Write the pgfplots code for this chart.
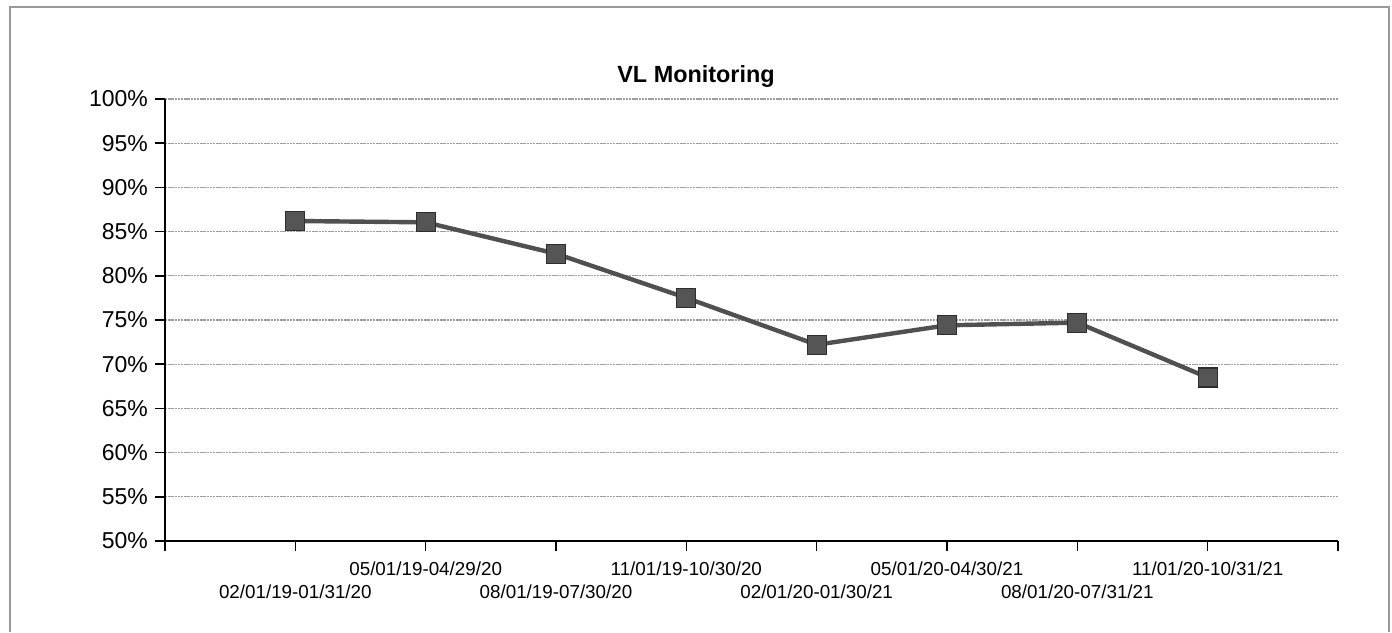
\documentclass[border=0pt]{standalone}
\usepackage{pgfplots}
\pgfplotsset{compat=1.18}
\usepackage{fontspec}
\setmainfont{Liberation Sans}
\definecolor{linegray}{RGB}{80,80,80}
\definecolor{markgray}{RGB}{85,85,85}
\definecolor{markedge}{RGB}{45,45,45}
\begin{document}
\begin{tikzpicture}
\begin{axis}[
 scale only axis, width=586.5pt, height=221pt,
 xmin=0, xmax=9, ymin=50, ymax=100,
 axis x line*=bottom, axis y line*=left,
 axis line style={-, black, line width=1.1pt},
 xtick={0,2,4,6,8,9},
 xticklabels={{},{05/01/19-04/29/20},{11/01/19-10/30/20},{05/01/20-04/30/21},{11/01/20-10/31/21},{}},
 extra x ticks={1,3,5,7},
 extra x tick labels={{02/01/19-01/31/20},{08/01/19-07/30/20},{02/01/20-01/30/21},{08/01/20-07/31/21}},
 extra x tick style={xticklabel style={yshift=-11.5pt}},
 xticklabel style={font=\fontsize{9.4}{11.5}\selectfont, anchor=north, yshift=-2pt},
 ytick={50,55,...,100},
 yticklabels={50\%,55\%,60\%,65\%,70\%,75\%,80\%,85\%,90\%,95\%,100\%},
 yticklabel style={font=\fontsize{11.5}{13}\selectfont},
 tick align=outside, major tick length=5pt, tick style={black, line width=0.8pt},
 ymajorgrids, grid style={gray!75, line width=0.55pt, dash pattern=on 1.2pt off 0.4pt},
 clip=false,
]
\addplot[color=linegray, line width=2.2pt, mark=square*, mark size=4.75pt,
  mark options={solid, fill=markgray, draw=markedge, line width=0.6pt}]
  coordinates {(1,86.2) (2,86.05) (3,82.5) (4,77.5) (5,72.2) (6,74.4) (7,74.7) (8,68.5)};
\coordinate (O) at (rel axis cs:0,0);
\end{axis}
\node[font=\bfseries\fontsize{11.7}{14}\selectfont] at ([xshift=265.5pt,yshift=232pt]O) {VL Monitoring};
\draw[gray!80, line width=0.6pt] ([xshift=-77.5pt,yshift=-45.5pt]O) -- ([xshift=-77.5pt,yshift=267pt]O) -- ([xshift=612pt,yshift=267pt]O) -- ([xshift=612pt,yshift=-45.5pt]O);
\pgfresetboundingbox
\path[use as bounding box] ([xshift=-82.5pt,yshift=-45.5pt]O) rectangle ([xshift=613.5pt,yshift=270.5pt]O);
\end{tikzpicture}
\end{document}
